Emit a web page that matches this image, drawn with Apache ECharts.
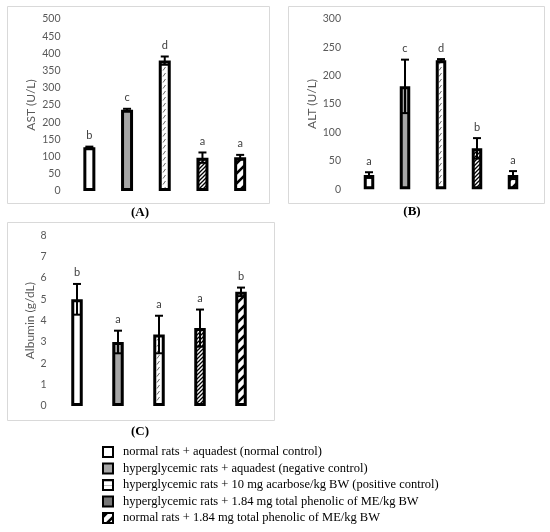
<!DOCTYPE html>
<html>
<head>
<meta charset="utf-8">
<script src="https://cdn.jsdelivr.net/npm/echarts@6/dist/echarts.min.js"></script>
<style>
  html, body { margin: 0; padding: 0; background: #fff; }
  #chart { width: 550px; height: 532px; }
</style>
</head>
<body>
<div id="chart"></div>
<script>
// groups (legend order)
var groups = [
  'normal rats + aquadest (normal control)',
  'hyperglycemic rats + aquadest (negative control)',
  'hyperglycemic rats + 10 mg acarbose/kg BW (positive control)',
  'hyperglycemic rats + 1.84 mg total phenolic of ME/kg BW',
  'normal rats + 1.84 mg total phenolic of ME/kg BW'
];

// (A) AST
var astValues  = [127, 236, 379, 97, 98];
var astErrors  = [2, 3, 12, 15, 7];
var astLetters = ['b', 'c', 'd', 'a', 'a'];
var astTicks   = [0, 500, 50];   // min, max, interval

// (B) ALT
var altValues  = [25, 181, 227, 72, 25];
var altErrors  = [5, 47, 2, 18, 7];
var altLetters = ['a', 'c', 'd', 'b', 'a'];
var altTicks   = [0, 300, 50];

// (C) Albumin
var albValues  = [5.0, 3.0, 3.35, 3.65, 5.35];
var albErrors  = [0.72, 0.53, 0.88, 0.87, 0.2];
var albLetters = ['b', 'a', 'a', 'a', 'b'];
var albTicks   = [0, 8, 1];

// ---- fill patterns ----
function tile(size, draw) {
  var c = document.createElement('canvas');
  c.width = size; c.height = size;
  var ctx = c.getContext('2d');
  ctx.fillStyle = '#fff';
  ctx.fillRect(0, 0, size, size);
  draw(ctx, size);
  return c;
}
function diag(ctx, s, w, col) {
  ctx.strokeStyle = col;
  ctx.lineWidth = w;
  ctx.beginPath();
  ctx.moveTo(-1, s + 1); ctx.lineTo(s + 1, -1);
  ctx.moveTo(-s / 2 - 1, s / 2 + 1); ctx.lineTo(s / 2 + 1, -s / 2 - 1);
  ctx.moveTo(s / 2 - 1, s * 1.5 + 1); ctx.lineTo(s * 1.5 + 1, s / 2 - 1);
  ctx.stroke();
}
var dashTile = tile(6, function (ctx) {
  ctx.strokeStyle = '#555';
  ctx.lineWidth = 0.9;
  ctx.beginPath();
  ctx.moveTo(1, 4.5); ctx.lineTo(3.5, 1);
  ctx.stroke();
});
var denseTile = tile(4, function (ctx, s) { diag(ctx, s, 1.3, '#000'); });
var wideTile  = tile(10, function (ctx, s) { diag(ctx, s, 2.6, '#000'); });
var legendLightTile = tile(4, function (ctx) {
  ctx.fillStyle = '#bbb';
  ctx.fillRect(0, 1, 4, 1);
});

var fills = [
  '#ffffff',
  '#a6a6a6',
  { image: dashTile, repeat: 'repeat' },
  { image: denseTile, repeat: 'repeat' },
  { image: wideTile, repeat: 'repeat' }
];
var legendFills = [
  '#ffffff',
  '#a6a6a6',
  { image: legendLightTile, repeat: 'repeat' },
  '#777777',
  { image: wideTile, repeat: 'repeat' }
];

// ---- helpers ----
function barSeries(idx, values, width) {
  return {
    type: 'bar',
    xAxisIndex: idx, yAxisIndex: idx,
    barWidth: width,
    data: values.map(function (v, i) {
      return { value: v, itemStyle: { color: fills[i], borderColor: '#000', borderWidth: 3 } };
    }),
    animation: false
  };
}
function errSeries(idx, values, errors, letters) {
  return {
    type: 'custom',
    xAxisIndex: idx, yAxisIndex: idx,
    z: 5,
    animation: false,
    data: values.map(function (v, i) { return [i, v, errors[i]]; }),
    renderItem: function (params, api) {
      var i = api.value(0), v = api.value(1), e = api.value(2);
      var hi = api.coord([i, v + e]);
      var lo = api.coord([i, v - e]);
      var x = hi[0];
      var st = { stroke: '#000', lineWidth: 2 };
      return {
        type: 'group',
        children: [
          { type: 'line', shape: { x1: x, y1: hi[1], x2: x, y2: lo[1] }, style: st },
          { type: 'line', shape: { x1: x - 4, y1: hi[1], x2: x + 4, y2: hi[1] }, style: st },
          { type: 'line', shape: { x1: x - 4, y1: lo[1], x2: x + 4, y2: lo[1] }, style: st },
          { type: 'text', style: {
              text: letters[params.dataIndex], x: x, y: hi[1] - 11,
              align: 'center', verticalAlign: 'middle',
              fill: '#404040', font: '11px Lato'
          } }
        ]
      };
    }
  };
}
function yAx(idx, ticks, name, gap) {
  return {
    gridIndex: idx, type: 'value',
    min: ticks[0], max: ticks[1], interval: ticks[2],
    axisLine: { show: false }, axisTick: { show: false }, splitLine: { show: false },
    axisLabel: { color: '#595959', fontFamily: 'Lato', fontSize: 10.5, margin: 10 },
    name: name, nameLocation: 'middle', nameGap: gap,
    nameTextStyle: { color: '#595959', fontFamily: 'Lato', fontSize: 12 }
  };
}
function xAx(idx) {
  return {
    gridIndex: idx, type: 'category', data: groups,
    axisLine: { show: false }, axisTick: { show: false }, axisLabel: { show: false }
  };
}

// ---- frames, captions, legend ----
var graphics = [];
[[7, 6, 262, 197], [288, 6, 256, 197], [7, 222, 267, 198]].forEach(function (b) {
  graphics.push({ type: 'rect', shape: { x: b[0] + 0.5, y: b[1] + 0.5, width: b[2], height: b[3] },
    style: { fill: 'none', stroke: '#d9d9d9', lineWidth: 1 } });
});
[['(A)', 140, 213], ['(B)', 412, 212], ['(C)', 140, 432]].forEach(function (c) {
  graphics.push({ type: 'text', style: { text: c[0], x: c[1], y: c[2], align: 'center', verticalAlign: 'middle',
    font: 'bold 13px "Liberation Serif"', fill: '#000' } });
});
var legendY = [452, 468.5, 485, 501.5, 518];
groups.forEach(function (g, i) {
  graphics.push({ type: 'rect', shape: { x: 103, y: legendY[i] - 5, width: 10, height: 10 },
    style: { fill: legendFills[i], stroke: '#000', lineWidth: 2 } });
  graphics.push({ type: 'text', style: { text: g, x: 123, y: legendY[i], verticalAlign: 'middle',
    font: '12.5px "Liberation Serif"', fill: '#000' } });
});

var chart = echarts.init(document.getElementById('chart'));
chart.setOption({
  backgroundColor: '#fff',
  animation: false,
  grid: [
    { left: 70.5, right: 291, top: 19, bottom: 341 },
    { left: 351, right: 19, top: 18.7, bottom: 342.7 },
    { left: 56.5, right: 288.5, top: 235.3, bottom: 126 }
  ],
  xAxis: [xAx(0), xAx(1), xAx(2)],
  yAxis: [
    yAx(0, astTicks, 'AST (U/L)', 33),
    yAx(1, altTicks, 'ALT (U/L)', 33),
    yAx(2, albTicks, 'Albumin (g/dL)', 19)
  ],
  series: [
    barSeries(0, astValues, 12), errSeries(0, astValues, astErrors, astLetters),
    barSeries(1, altValues, 10.5), errSeries(1, altValues, altErrors, altLetters),
    barSeries(2, albValues, 11.5), errSeries(2, albValues, albErrors, albLetters)
  ],
  graphic: graphics
});
</script>
</body>
</html>
